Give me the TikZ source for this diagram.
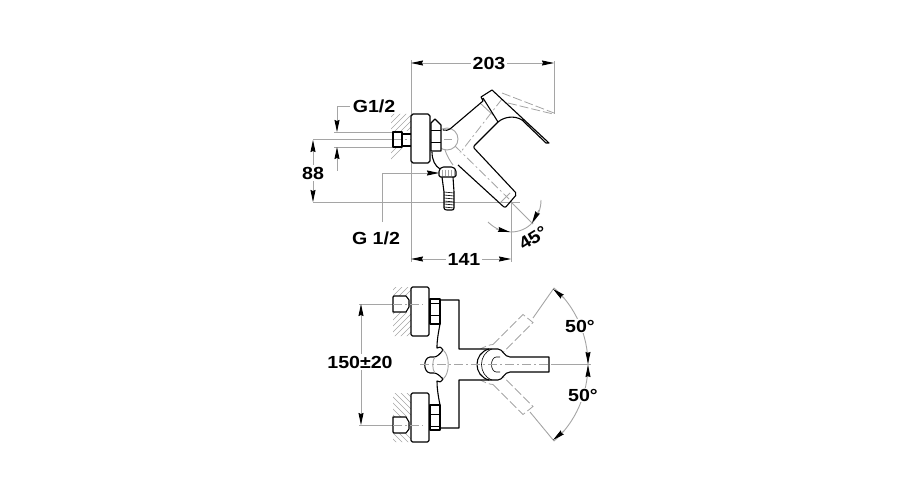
\documentclass[tikz,border=0pt]{standalone}
\usepackage{fontspec}
\setmainfont[FakeStretch=1.12]{Liberation Sans}
\usepackage{xcolor}
\usetikzlibrary{arrows.meta}
\definecolor{dimgrey}{RGB}{165,165,165}
\tikzset{
 outline/.style={line width=1.1pt,black,line join=round},
 thinline/.style={line width=0.6pt,black},
 dimline/.style={line width=0.9pt,dimgrey},
 axisline/.style={line width=0.8pt,dimgrey,dash pattern=on 9pt off 3pt on 2pt off 3pt},
 ghost/.style={line width=0.8pt,dimgrey,dash pattern=on 9pt off 3pt},
 hatchline/.style={line width=0.5pt,dimgrey},
 tip/.style={-{Stealth[black,length=12pt,width=5pt,inset=1pt]}},
 tiptip/.style={{Stealth[black,length=12pt,width=5pt,inset=1pt]}-{Stealth[black,length=12pt,width=5pt,inset=1pt]}},
 dimtext/.style={font=\bfseries\fontsize{17.5}{19}\selectfont,inner sep=2pt,fill=white},
}
\begin{document}
\begin{tikzpicture}[x=1pt,y=-1pt]
\useasboundingbox (0,0) rectangle (900,500);

% side view, hatching
\begin{scope}
\clip (391,114) rectangle (411,131) (391,148) rectangle (411,163);
\foreach \x in {390,396,...,450}{
\draw[hatchline] (\x,100) -- (\x-64,164);}
\end{scope}

% side view, dimension lines
\draw[dimline] (411,60) -- (411,262);
\draw[dimline] (554,61) -- (554,114);
\draw[dimline,tiptip] (411,63) -- (554,63);
\draw[dimline] (334,132) -- (393,132);
\draw[dimline] (334,147) -- (393,147);
\draw[dimline] (313,139) -- (393,139);
\draw[dimline,tip] (350,106) -- (337,106) -- (337,132);
\draw[dimline,tip] (337,171) -- (337,147);
\draw[dimline,tip] (313,170) -- (313,140);
\draw[dimline,tip] (313,170) -- (313,202);
\draw[dimline] (313,202) -- (520,202);
\draw[dimline,tip] (382,222) -- (382,173) -- (439,173);
\draw[dimline,tiptip] (411,259) -- (511,259);
\draw[dimline] (511,200) -- (511,262);
\draw[dimline] (511,202) -- (533,224);
\draw[dimline] (488,222) .. controls (494,228) and (502,232) .. (511,232);
\draw[dimline] (511,232) .. controls (528,232) and (541,218) .. (541,200);
\draw[dimline,tip] (496,229) -- (510,232);
\draw[dimline,tip] (539,210) -- (532,223);

% side view, axes and ghost lever
\draw[axisline] (393,139) -- (452,139);
\draw[axisline] (455,146) -- (509,199);
\draw[axisline] (502,99) -- (460,153);
\draw[ghost] (502,93) -- (554,113);
\draw[ghost] (508,103) -- (553,114);
\draw[dimline] (480,103) -- (493,115);
\draw[dimline] (447,139) circle (11);
\draw[dimline] (445,150) .. controls (447,156) and (450,161) .. (453,165);

% side view, fittings
\draw[outline,fill=white] (411,116) to[out=-90,in=180] (413,114) -- (428,114) to[out=0,in=-90] (430,116) -- (430,161) to[out=90,in=0] (428,163) -- (413,163) to[out=180,in=90] (411,161) -- cycle;
\draw[outline] (393,132) rectangle (402,147);
\draw[outline] (402,134) -- (411,134) (402,146) -- (411,146);
\draw[outline,fill=white] (431,123) -- (435,119) -- (441,125) -- (441,151) -- (431,151) -- cycle;
\draw[thinline] (431,130) -- (441,130) (431,142) -- (441,142);
\draw[outline] (432,152) .. controls (432,160) and (435,166) .. (440,169);

% side view, lever and spout
\draw[outline] (443,130) .. controls (446,131) and (448,130) .. (450,129) -- (483,101) -- (481,97) -- (492,90) -- (549,143) -- (546,143) -- (522,120) .. controls (514,115) and (504,117) .. (498,122) -- (483,98);
\draw[outline,rounded corners=2pt] (498,122) -- (473,147) -- (517,194) -- (505,208) -- (458,165);
\draw[dimline] (510,193) -- (500,203);

% side view, hose connector
\draw[outline,fill=white,rounded corners=1.5pt] (439,177) -- (439,170) -- (442,167) -- (453,167) -- (456,170) -- (456,177) -- cycle;
\draw[hatchline] \foreach \x in {442,445,...,454}{(\x,170) -- (\x,176)};
\draw[outline] (442,177) -- (444,192) (453,177) -- (454,192);
\draw[outline,rounded corners=1pt] (444,192) -- (444,209) -- (446,210) -- (453,210) -- (454,209) -- (454,192);
\foreach \y in {192,195,...,207}{
\draw[thinline] (444,\y) -- (454,\y+1);}

% plan view, dimension lines and axes
\draw[dimline] (359,304) -- (412,304);
\draw[dimline] (359,425) -- (412,425);
\draw[dimline,tiptip] (361,304) -- (361,425);
\draw[dimline] (551,364.5) -- (591,364.5);
\draw[dimline] (533,318) -- (554,288);
\draw[dimline] (530,412) -- (554,441);
\draw[dimline] (554,288) .. controls (575,306) and (588,335) .. (588,364.5);
\draw[dimline] (588,364.5) .. controls (588,394) and (575,423) .. (554,441);
\draw[dimline,tip] (564,298) -- (553,289);
\draw[dimline,tip] (588,352) -- (588,364);
\draw[dimline,tip] (588,377) -- (588,365);
\draw[dimline,tip] (564,431) -- (553,440);

% plan view, ghost handles
\foreach \s in {1,-1}{
\begin{scope}[shift={(0,364.5)},yscale=\s]
\draw[ghost] (493,-20) -- (523,-50) -- (533,-42) -- (503,-12);
\draw[ghost] (478,-14) .. controls (484,-18) and (490,-20) .. (493,-20);
\end{scope}}

% plan view, body
\draw[outline,fill=white] (440,300) -- (459,300) -- (459,349) -- (498,349) .. controls (503,349) and (504,357) .. (510,357) -- (549,357) -- (549,372) -- (510,372) .. controls (504,372) and (503,380) .. (498,380) -- (459,380) -- (459,428) -- (440,428);
\draw[outline] (440,300) -- (440,324) .. controls (438,335) and (437,340) .. (437,348) .. controls (439,346) and (441,347) .. (443,350);
\draw[outline] (440,428) -- (440,405) .. controls (438,395) and (437,388) .. (437,381) .. controls (439,383) and (441,382) .. (443,379);
\draw[outline] (443,350) .. controls (440,354) and (437,357) .. (434,357) -- (430,357) .. controls (423,358) and (423,372) .. (430,373) -- (434,373) .. controls (437,373) and (440,376) .. (443,379);
\draw[dimline] (443,350) .. controls (450,355) and (450,374) .. (443,379);
\draw[dimline] (435,357) .. controls (432,360) and (432,370) .. (435,373);
\draw[outline] (489,349) .. controls (473,353) and (473,376) .. (489,380);
\draw[thinline] (492,349) .. controls (478,354) and (478,375) .. (492,380);
\draw[thinline] (500,357) -- (496,357) .. controls (490,358) and (490,371) .. (496,372) -- (500,372);
\draw[axisline] (420,364.5) -- (549,364.5);

% plan view, fittings
\foreach \y/\s in {304/1,425/-1}{
\begin{scope}[shift={(0,\y)},yscale=\s]
\begin{scope}
\clip (393,-17) rectangle (411,-8) (393,8) rectangle (411,32);
\foreach \x in {393,399,...,465}{
\draw[hatchline] (\x,-20) -- (\x-55,35);}
\end{scope}
\draw[outline,fill=white] (393,-7) -- (393,8) -- (406,8) -- (409,3) -- (409,-4) -- (406,-8) -- (394,-8) -- cycle;
\draw[outline,fill=white,rounded corners=1.5pt] (411,-17) rectangle (429,32);
\draw[axisline] (393,0) -- (423,0);
\draw[outline,fill=white] (430,-5) rectangle (440,20);
\draw[thinline] (430,-1) -- (440,-1) (430,11) -- (440,11);
\end{scope}}

% labels
\node[dimtext] (top) at (489,63) {203};
\node[dimtext,fill=none] (thread) at (374,106) {G1/2};
\node[dimtext] (height) at (313,173) {88};
\node[dimtext] (hose) at (376,238) {G 1/2};
\node[dimtext] (reach) at (464,259) {141};
\node[dimtext,rotate=32,fill=none] (tilt) at (533,238) {45°};
\node[dimtext] (gap) at (360,362) {150±20};
\node[dimtext,inner sep=1pt] (upper) at (580,326) {50°};
\node[dimtext,inner sep=1pt] (lower) at (583,395) {50°};
\end{tikzpicture}
\end{document}
